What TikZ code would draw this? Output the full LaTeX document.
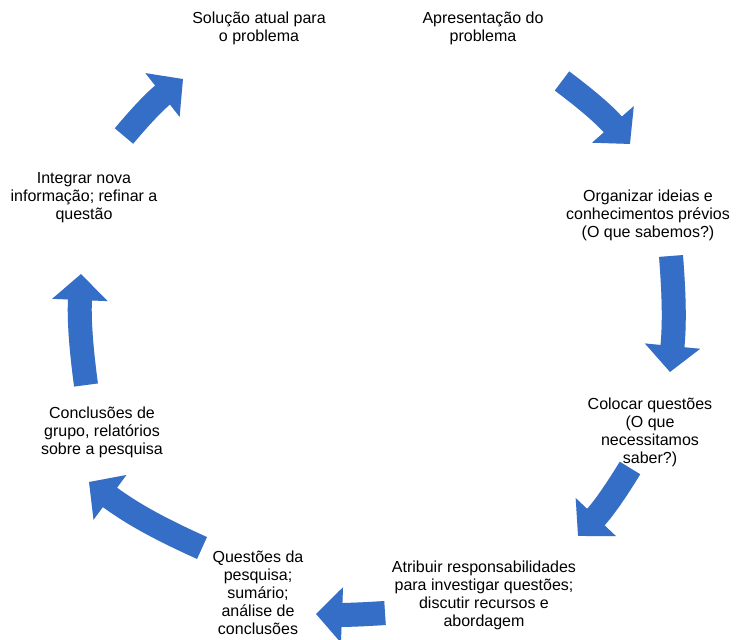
\documentclass[tikz,border=0pt]{standalone}
\usepackage{fontspec}
\setmainfont{Liberation Sans}
\usetikzlibrary{arrows.meta}

\definecolor{cycleblue}{RGB}{52,110,198}

\begin{document}
\begin{tikzpicture}[x=1pt,y=1pt,
  steptext/.style={align=center, inner sep=0pt, font=\fontsize{16}{18}\selectfont},
  cyclearrow/.style={draw=cycleblue, line width=24pt,
    -{Triangle[width=54pt,length=26pt]}},
  arrowshade/.style={draw=black!25, opacity=0.5, line width=24pt,
    -{Triangle[width=54pt,length=26pt]}}]
  \useasboundingbox (0,0) rectangle (748,640);

  % Steps of the cycle
  \node[steptext] (sol) at (259,611.5) {Solução atual para\\o problema};
  \node[steptext] (apr) at (483,611.5) {Apresentação do\\problema};
  \node[steptext] (org) at (648,425) {Organizar ideias e\\conhecimentos prévios\\(O que sabemos?)};
  \node[steptext] (col) at (650,208) {Colocar questões\\(O que\\necessitamos\\saber?)};
  \node[steptext] (atr) at (484,45) {Atribuir responsabilidades\\para investigar questões;\\discutir recursos e\\abordagem};
  \node[steptext] (que) at (258,47) {Questões da\\pesquisa;\\sumário;\\análise de\\conclusões};
  \node[steptext] (con) at (102,208) {Conclusões de\\grupo, relatórios\\sobre a pesquisa};
  \node[steptext] (int) at (84,442) {Integrar nova\\informação; refinar a\\questão};

  % Arrow ends
  \coordinate (a1s) at (562,559); \coordinate (a1e) at (630,496);
  \coordinate (a2s) at (671,384); \coordinate (a2e) at (670,268);
  \coordinate (a3s) at (630,172); \coordinate (a3e) at (578,104);
  \coordinate (a4s) at (385,27);  \coordinate (a4e) at (316,26);
  \coordinate (a5s) at (202,92);  \coordinate (a5e) at (89,158);
  \coordinate (a6s) at (86,255);  \coordinate (a6e) at (81,366);
  \coordinate (a7s) at (124,504); \coordinate (a7e) at (183,561);

  % Soft shadow
  \begin{scope}[shift={(2,-2)}]
    \draw[arrowshade] (a1s) to[bend left=6] (a1e);
    \draw[arrowshade] (a2s) to[bend left=5] (a2e);
    \draw[arrowshade] (a3s) to[bend left=6] (a3e);
    \draw[arrowshade] (a4s) to[bend left=3] (a4e);
    \draw[arrowshade] (a5s) to[bend left=6] (a5e);
    \draw[arrowshade] (a6s) to[bend left=5] (a6e);
    \draw[arrowshade] (a7s) to[bend left=6] (a7e);
  \end{scope}

  % Block arrows
  \draw[cyclearrow] (a1s) to[bend left=6] (a1e);
  \draw[cyclearrow] (a2s) to[bend left=5] (a2e);
  \draw[cyclearrow] (a3s) to[bend left=6] (a3e);
  \draw[cyclearrow] (a4s) to[bend left=3] (a4e);
  \draw[cyclearrow] (a5s) to[bend left=6] (a5e);
  \draw[cyclearrow] (a6s) to[bend left=5] (a6e);
  \draw[cyclearrow] (a7s) to[bend left=6] (a7e);
\end{tikzpicture}
\end{document}
